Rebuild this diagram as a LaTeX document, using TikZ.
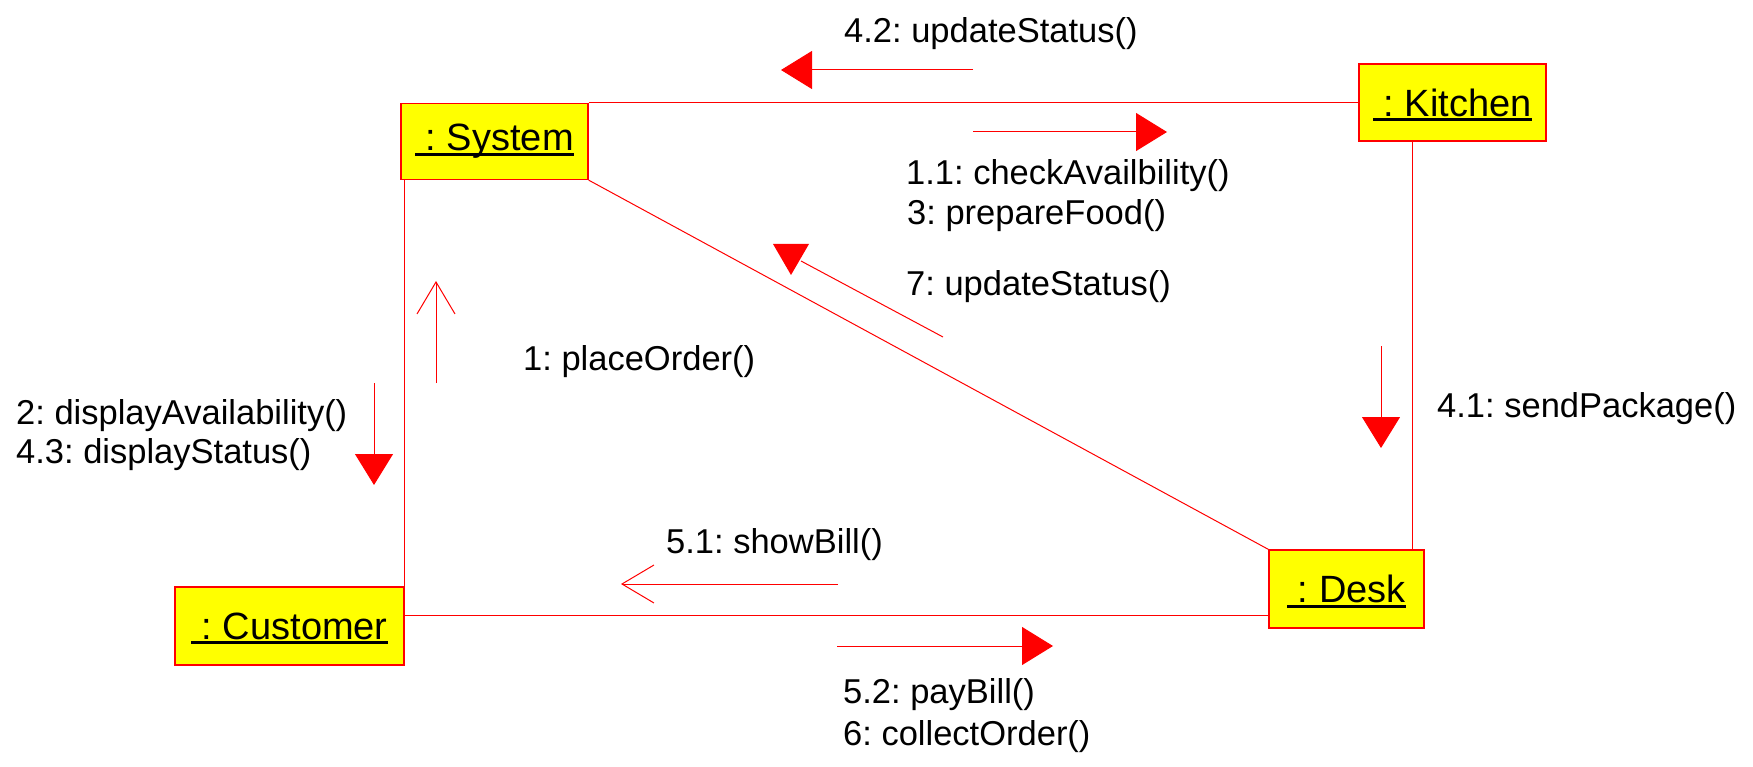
\documentclass[tikz,border=0pt]{standalone}
\usepackage{fontspec}
\setmainfont{Liberation Sans}
\usetikzlibrary{arrows.meta}
\definecolor{objyellow}{RGB}{255,255,0}
\definecolor{linered}{RGB}{255,0,0}
\newcommand\objname[1]{\setbox0\hbox{#1}\rlap{\copy0}\smash{\raisebox{-5pt}{\rule{\wd0}{3pt}}}}
\begin{document}
\frenchspacing
\begin{tikzpicture}[x=1pt,y=-1pt,
  obj/.style={draw=linered, line width=1.2pt, fill=objyellow, inner sep=0pt, font=\fontsize{38}{44}\selectfont},
  link/.style={draw=linered, line width=1pt},
  msgfill/.style={draw=linered, line width=1pt, -{Triangle[length=31pt,width=38pt]}},
  msgopen/.style={draw=linered, line width=1pt, -{Straight Barb[length=32pt,width=38pt]}},
  lbl/.style={font=\fontsize{34.5}{40}\selectfont, anchor=base west, inner sep=0pt}]
\fill[white] (0,0) rectangle (1753,767);
\useasboundingbox (0,0) rectangle (1753,767);

\node[obj, minimum width=187pt, minimum height=76pt] (sys) at (494.5,141.5) {\objname{\ : System}};
\node[obj, minimum width=187pt, minimum height=77pt] (kit) at (1452.5,102.5) {\objname{\ : Kitchen}};
\node[obj, minimum width=229pt, minimum height=78pt] (cus) at (289.5,626) {\objname{\ : Customer}};
\node[obj, minimum width=155pt, minimum height=78pt] (desk) at (1346.5,589) {\objname{\ : Desk}};

\draw[link] (sys.north east) -- (sys.north east -| kit.west);
\draw[link] (cus.north east) -- (cus.north east |- sys.south);
\draw[link] ([yshift=11pt]cus.east) -- ([yshift=11pt]cus.east -| desk.west);
\draw[link] ([xshift=-12pt]desk.north east) -- ([xshift=-12pt]desk.north east |- kit.south);
\draw[link] (sys.south east) -- (desk.north west);

\coordinate (a42s) at (973,70);   \coordinate (a42e) at (781,70);
\coordinate (a11s) at (973,132);  \coordinate (a11e) at (1167,132);
\coordinate (a7s) at (943,337);   \coordinate (a7e) at (801,261);
\coordinate (a1s) at (436,383);   \coordinate (a1e) at (436,281);
\coordinate (a2s) at (374,383);   \coordinate (a2e) at (374,485);
\coordinate (a41s) at (1381,346); \coordinate (a41e) at (1381,448);
\coordinate (a51s) at (838,584);  \coordinate (a51e) at (621,584);
\coordinate (a52s) at (837,646);  \coordinate (a52e) at (1053,646);

\draw[msgfill] (a42s) -- (a42e);
\draw[msgfill] (a11s) -- (a11e);
\draw[link] (a7s) -- (a7e);
\fill[linered] (773,244) -- (809,244) -- (791,275) -- cycle;
\draw[msgopen] (a1s) -- (a1e);
\draw[msgfill] (a2s) -- (a2e);
\draw[msgfill] (a41s) -- (a41e);
\draw[msgopen] (a51s) -- (a51e);
\draw[msgfill] (a52s) -- (a52e);

\node[lbl] (l42) at (844,43) {4.2: updateStatus()};
\node[lbl] (l11) at (906,185) {1.1: checkAvailbility()};
\node[lbl] (l3) at (907,225) {3: prepareFood()};
\node[lbl] (l7) at (906,295) {7: updateStatus()};
\node[lbl] (l1) at (523,370) {1: placeOrder()};
\node[lbl] (l2) at (16,424) {2: displayAvailability()};
\node[lbl] (l43) at (16,463) {4.3: displayStatus()};
\node[lbl] (l41) at (1437,417) {4.1: sendPackage()};
\node[lbl] (l51) at (666,553) {5.1: showBill()};
\node[lbl] (l52) at (843,703) {5.2: payBill()};
\node[lbl] (l6) at (843,745) {6: collectOrder()};
\end{tikzpicture}
\end{document}
